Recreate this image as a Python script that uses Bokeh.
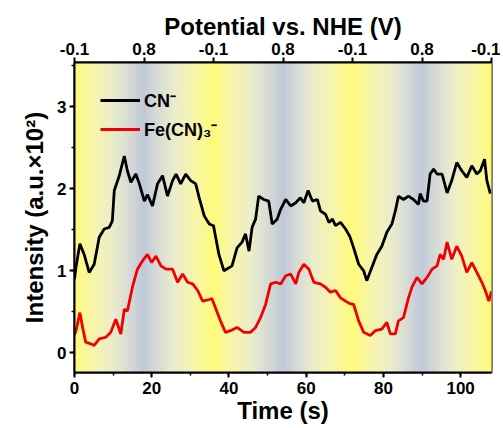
import numpy as np
from bokeh.plotting import figure
from bokeh.models import (Range1d, LinearAxis, FixedTicker, SingleIntervalTicker,
                          Legend, LegendItem)
from bokeh.embed import file_html
from bokeh.resources import INLINE

# ---------------- data ----------------
cn_t = [0.0, 0.4, 1.4, 2.5, 3.8, 5.1, 6.4, 7.7, 9.0, 9.8, 10.3, 11.6, 12.9, 13.7, 14.6,
        15.9, 16.8, 18.1, 18.9, 20.2, 21.5, 22.8, 24.1, 25.4, 26.3, 27.5, 28.8, 30.1,
        31.4, 32.3, 33.6, 34.9, 36.0, 37.4, 38.7, 40.8, 42.1, 43.4, 44.3, 45.2, 46.0,
        46.9, 47.7, 49.0, 50.3, 51.2, 52.5, 53.4, 54.7, 56.0, 57.3, 58.5, 59.4, 60.5,
        61.6, 62.9, 63.7, 65.0, 65.9, 66.8, 67.6, 68.9, 70.2, 71.3, 72.3, 73.6, 74.9,
        75.7, 77.0, 78.3, 79.6, 80.9, 82.2, 83.1, 83.9, 85.2, 86.5, 87.8, 89.1, 89.5,
        90.4, 91.3, 92.1, 93.0, 93.9, 95.2, 96.5, 97.7, 99.0, 100.3, 101.6, 102.9,
        104.2, 105.1, 106.2, 106.8, 107.7]
cn_v = [0.90, 1.05, 1.33, 1.20, 0.98, 1.08, 1.41, 1.51, 1.53, 1.61, 1.98, 2.16, 2.40, 2.22,
        2.08, 2.18, 2.06, 1.85, 1.93, 1.79, 2.06, 2.16, 1.91, 2.10, 2.18, 2.06, 2.18, 2.10,
        2.06, 1.89, 1.67, 1.57, 1.55, 1.20, 1.00, 1.06, 1.28, 1.35, 1.45, 1.24, 1.53, 1.63,
        1.91, 1.87, 1.85, 1.57, 1.63, 1.75, 1.87, 1.79, 1.83, 1.89, 1.83, 1.98, 1.85, 1.87,
        1.73, 1.69, 1.59, 1.63, 1.55, 1.59, 1.51, 1.42, 1.28, 1.08, 1.00, 0.88, 1.04, 1.20,
        1.30, 1.47, 1.57, 1.73, 1.91, 1.87, 1.91, 1.87, 1.81, 1.94, 1.85, 1.85, 2.18, 2.24,
        2.18, 2.18, 1.95, 2.10, 2.32, 2.22, 2.14, 2.28, 2.18, 2.22, 2.36, 2.10, 1.94]

fe_t = [0.0, 0.4, 1.4, 2.1, 2.9, 4.2, 5.1, 6.4, 8.1, 9.4, 10.7, 12.0, 12.9, 13.7, 15.0,
        16.3, 17.6, 18.9, 20.0, 21.1, 22.4, 23.7, 25.4, 26.7, 28.0, 29.3, 30.6, 31.9,
        33.2, 34.9, 35.6, 36.5, 37.8, 39.1, 40.4, 42.1, 43.9, 45.6, 46.9, 48.2, 49.5,
        50.8, 52.1, 53.4, 54.7, 56.0, 57.3, 58.1, 59.4, 60.7, 62.0, 63.7, 65.0, 66.3,
        67.6, 68.9, 70.2, 71.3, 72.3, 73.6, 74.9, 76.6, 77.9, 79.6, 80.9, 81.8, 83.1,
        83.9, 85.2, 86.5, 87.4, 88.7, 90.0, 91.3, 92.6, 93.9, 94.7, 95.6, 96.5, 97.7,
        99.0, 100.3, 101.6, 102.9, 104.2, 105.5, 106.4, 107.3, 108.0]
fe_v = [0.22, 0.27, 0.49, 0.31, 0.13, 0.11, 0.09, 0.17, 0.19, 0.25, 0.41, 0.23, 0.53, 0.51,
        0.80, 1.02, 1.12, 1.20, 1.10, 1.18, 1.06, 1.02, 1.02, 0.86, 0.96, 0.86, 0.84, 0.76,
        0.63, 0.65, 0.66, 0.55, 0.39, 0.25, 0.27, 0.31, 0.25, 0.25, 0.31, 0.43, 0.59, 0.84,
        0.86, 0.84, 0.94, 0.96, 0.84, 0.98, 1.08, 1.02, 0.86, 0.84, 0.80, 0.74, 0.76, 0.67,
        0.63, 0.60, 0.59, 0.39, 0.25, 0.21, 0.27, 0.29, 0.37, 0.23, 0.23, 0.39, 0.43, 0.67,
        0.80, 0.92, 0.84, 0.92, 1.02, 1.06, 1.20, 1.14, 1.35, 1.14, 1.30, 1.18, 0.98, 1.10,
        0.98, 0.86, 0.76, 0.63, 0.75]

# potential cycle (top axis)
cycle_t = [0, 18, 36, 54, 72, 90, 108]
cycle_v = [-0.1, 0.8, -0.1, 0.8, -0.1, 0.8, -0.1]
cycle_labels = ["-0.1", "0.8", "-0.1", "0.8", "-0.1", "0.8", "-0.1"]

x_lo, x_hi = 0, 108
y_lo, y_hi = -0.24, 3.54

FONT = "Liberation Sans"

p = figure(width=500, height=428, output_backend="svg", toolbar_location=None,
           x_range=Range1d(x_lo, x_hi), y_range=Range1d(y_lo, y_hi),
           min_border_left=74, min_border_right=9, min_border_top=62,
           min_border_bottom=56,
           x_axis_label="Time (s)", y_axis_label="Intensity (a.u.×10²)")

# ---------------- background gradient (follows potential) ----------------
step = 0.25
lefts = np.arange(x_lo, x_hi, step)
rights = lefts + step
centers = lefts + step / 2
pot = np.interp(centers, cycle_t, cycle_v)
u = (0.8 - pot) / 0.9  # 0 at 0.8 V (grey-blue), 1 at -0.1 V (yellow)
stops_u = [0.0, 0.2, 0.45, 0.75, 1.0]
stops_c = np.array([(192, 201, 218), (214, 219, 214), (236, 237, 203),
                    (248, 246, 168), (255, 251, 122)], dtype=float)
cols = []
for uu in u:
    r = np.interp(uu, stops_u, stops_c[:, 0])
    g = np.interp(uu, stops_u, stops_c[:, 1])
    b = np.interp(uu, stops_u, stops_c[:, 2])
    cols.append("#%02x%02x%02x" % (int(r), int(g), int(b)))
p.quad(left=lefts, right=rights, bottom=y_lo, top=y_hi,
       fill_color=cols, line_color=cols, line_width=1)

# ---------------- curves ----------------
r1 = p.line(cn_t, cn_v, line_color="black", line_width=2.8)
r2 = p.line(fe_t, fe_v, line_color="#f00000", line_width=2.8)

legend = Legend(items=[LegendItem(label="CN⁻", renderers=[r1]),
                       LegendItem(label="Fe(CN)₃⁻", renderers=[r2])],
                location="top_left")
legend.background_fill_alpha = 0
legend.border_line_alpha = 0
legend.label_text_font = FONT
legend.label_text_font_style = "bold"
legend.label_text_font_size = "18px"
legend.label_text_color = "black"
legend.glyph_width = 40
legend.glyph_height = 20
legend.label_height = 20
legend.spacing = 5
legend.margin = 20
legend.padding = 6
legend.label_standoff = 4
p.add_layout(legend)

# ---------------- axes ----------------
p.grid.visible = False
p.outline_line_color = "black"
p.outline_line_width = 2
p.background_fill_color = "white"

bottom_ax = p.below[0]
left_ax = p.left[0]
bottom_ax.ticker = SingleIntervalTicker(interval=20, num_minor_ticks=2)
left_ax.ticker = SingleIntervalTicker(interval=1, num_minor_ticks=2)

top = LinearAxis(ticker=FixedTicker(ticks=cycle_t, minor_ticks=[]),
                 major_label_overrides={t: l for t, l in zip(cycle_t, cycle_labels)},
                 axis_label="Potential vs. NHE (V)")
p.add_layout(top, "above")

for ax in [bottom_ax, left_ax, top]:
    ax.axis_line_width = 2
    ax.major_tick_line_width = 2
    ax.major_tick_out = 5
    ax.major_tick_in = 0
    ax.minor_tick_out = 3
    ax.minor_tick_in = 0
    ax.minor_tick_line_width = 1.5
    ax.major_label_text_font = FONT
    ax.major_label_text_font_style = "bold"
    ax.major_label_text_font_size = "17px"
    ax.major_label_text_color = "black"
    ax.axis_label_text_font = FONT
    ax.axis_label_text_font_style = "bold"
    ax.axis_label_text_font_size = "24px"
    ax.axis_label_text_color = "black"
    ax.major_label_standoff = 3
    ax.axis_label_standoff = 0

left_ax.axis_label_standoff = 6
bottom_ax.major_label_standoff = 4

open("out.html", "w").write(file_html(p, INLINE))
